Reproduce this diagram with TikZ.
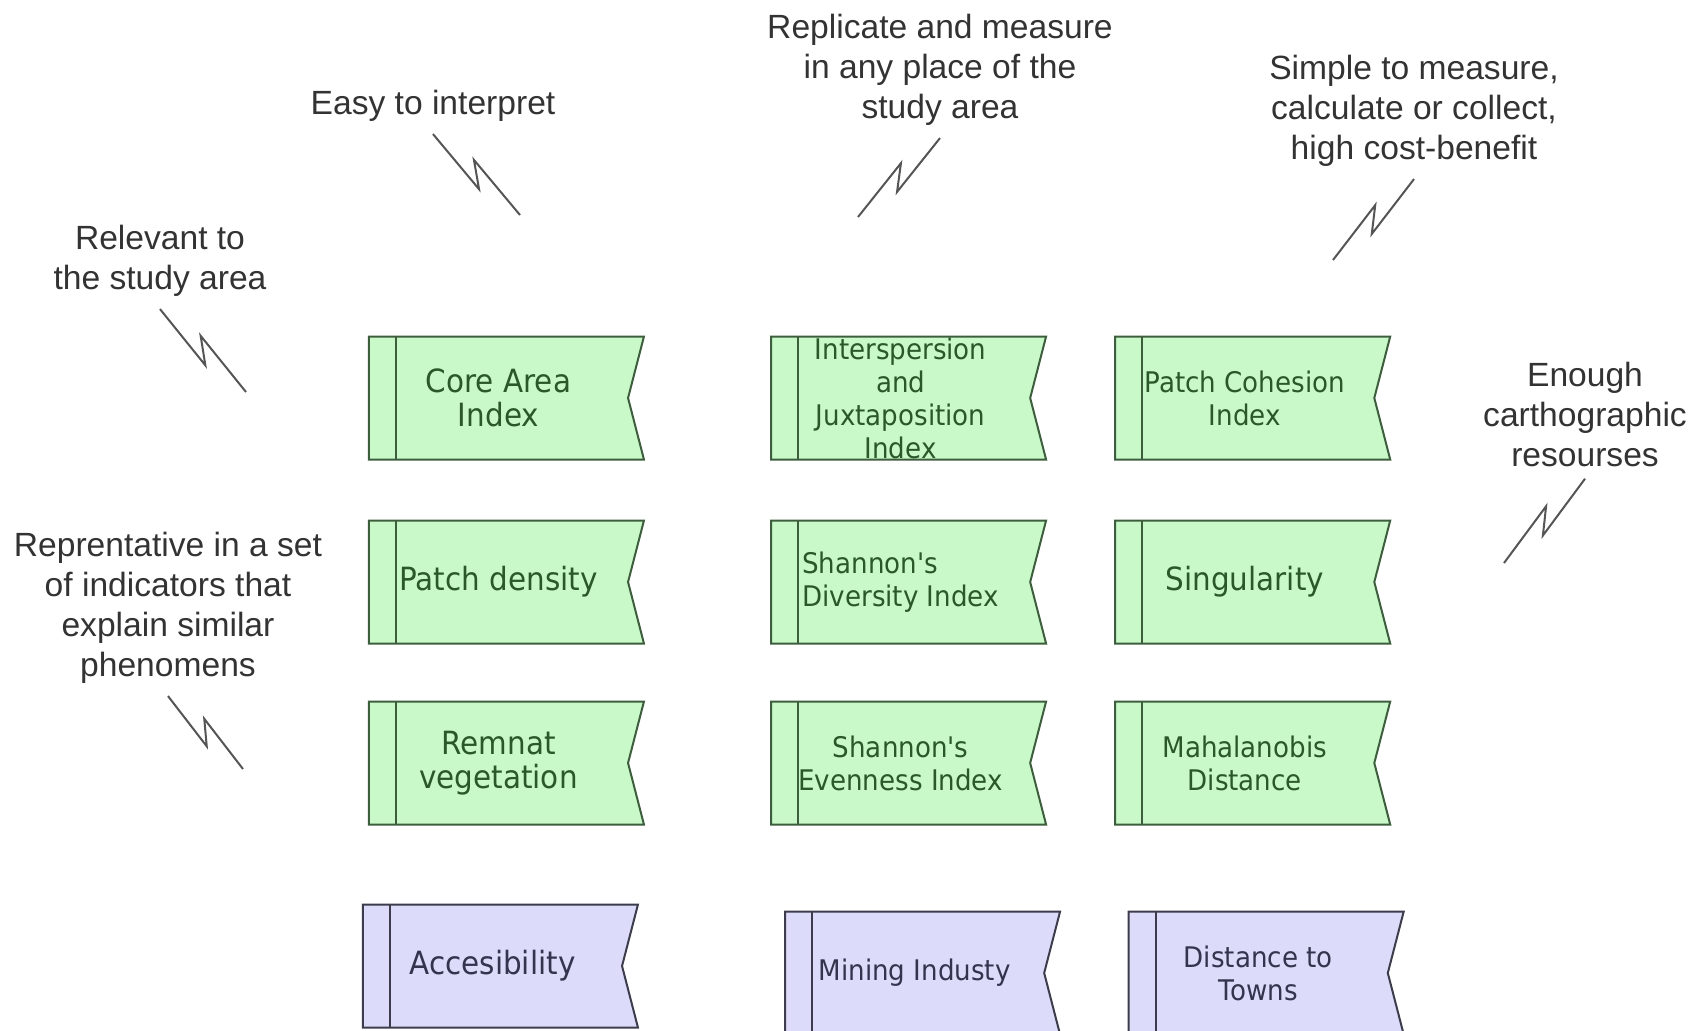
\documentclass[tikz,border=0pt]{standalone}
\usepackage{fontspec}
\setmainfont{Liberation Sans}
\newfontfamily\boxfont{DejaVu Sans}[FakeStretch=0.92]
\usetikzlibrary{positioning, shapes.symbols, calc}
\definecolor{idxfill}{HTML}{C9F9C9}
\definecolor{idxline}{HTML}{3D5E3D}
\definecolor{idxtext}{HTML}{2A582A}
\definecolor{drvfill}{HTML}{DCDCFA}
\definecolor{drvline}{HTML}{3C3C4C}
\definecolor{drvtext}{HTML}{34344E}
\definecolor{notegray}{HTML}{333333}
\definecolor{zapgray}{HTML}{555555}

\begin{document}
\begin{tikzpicture}[
    x=0.5pt, y=-0.5pt,
    node distance=29.5pt and 70.5pt,
    block/.style={
        signal, signal from=east, signal to=nowhere, signal pointer angle=151,
        draw=#1line, line width=1pt, fill=#1fill, text=#1text,
        minimum width=137.5pt, minimum height=61.5pt,
        font=\boxfont\fontsize{16}{16.8}\selectfont, align=center,
        path picture={\draw[#1line, line width=1pt]
            ([xshift=13.5pt]path picture bounding box.north west) --
            ([xshift=13.5pt]path picture bounding box.south west);}
    },
    smalltext/.style={font=\boxfont\fontsize{14.2}{16.5}\selectfont},
    note/.style={font=\fontsize{16.8}{20}\selectfont, text=notegray, align=center, inner sep=6pt},
    zap/.style={draw=zapgray, line width=1pt, to path={
        -- ($(\tikztostart)!0.6!(\tikztotarget)!4.5pt!#1:(\tikztotarget)$)
        -- ($(\tikztostart)!0.4!(\tikztotarget)!-4.5pt!#1:(\tikztotarget)$)
        -- (\tikztotarget)}}
]
\useasboundingbox (0,0) rectangle (1699,1030);

% Indicators
\node[block=idx] (core) at (498.5,398) {Core Area\\Index};
\node[block=idx, smalltext, inner ysep=0pt, right=of core] (inter) {Interspersion\\and\\Juxtaposition\\Index};
\node[block=idx, smalltext, right=41.5pt of inter] (cohesion) {Patch Cohesion\\Index};
\node[block=idx, below=of core] (density) {Patch density};
\node[block=idx, smalltext, below=of inter, align=left] (diversity) {Shannon's\\Diversity Index};
\node[block=idx, below=of cohesion] (singular) {Singularity};
\node[block=idx, below=28pt of density] (remnant) {Remnat\\vegetation};
\node[block=idx, smalltext, below=28pt of diversity] (evenness) {Shannon's\\Evenness Index};
\node[block=idx, smalltext, below=28pt of singular] (mahal) {Mahalanobis\\Distance};

% Drivers
\node[block=drv, below=39pt of remnant, xshift=-3pt] (access) {Accesibility};
\node[block=drv, smalltext, below=42.5pt of evenness, xshift=7pt] (mining) {Mining Industy};
\node[block=drv, smalltext, below=42.5pt of mahal, xshift=6.75pt] (towns) {Distance to\\Towns};

% Criteria
\node[note] (easy) at (433,106) {Easy to interpret};
\node[note] (replicate) at (940,70) {Replicate and measure\\in any place of the\\study area};
\node[note] (simple) at (1414,111) {Simple to measure,\\calculate or collect,\\high cost-benefit};
\node[note] (relevant) at (160,261) {Relevant to\\the study area};
\node[note] (enough) at (1585,414) {Enough\\carthographic\\resourses};
\node[note] (represent) at (168,608) {Reprentative in a set\\of indicators that\\explain similar\\phenomens};

\coordinate (easyend) at (520,215);
\coordinate (replicateend) at (858,217);
\coordinate (simpleend) at (1333,260);
\coordinate (relevantend) at (246,392);
\coordinate (enoughend) at (1504,563);
\coordinate (representend) at (243,769);

% Zigzag marks
\draw[zap=-90] (easy.south) to (easyend);
\draw[zap=90] (replicate.south) to (replicateend);
\draw[zap=90] (simple.south) to (simpleend);
\draw[zap=-90] (relevant.south) to (relevantend);
\draw[zap=90] (enough.south) to (enoughend);
\draw[zap=-90] (represent.south) to (representend);

\end{tikzpicture}
\end{document}
